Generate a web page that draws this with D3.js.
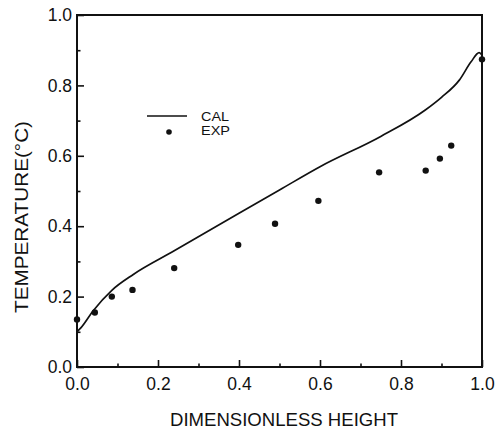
<!DOCTYPE html>
<html>
<head>
<meta charset="utf-8">
<script src="https://cdn.jsdelivr.net/npm/d3@7"></script>
<style>
  body { margin: 0; background: #fff; }
  svg text { font-family: "Liberation Sans", Arial, sans-serif; fill: #111; }
</style>
</head>
<body>
<svg id="chart" width="502" height="430"></svg>
<script>
// Calculated curve (CAL)
const calX = [0, 0.01, 0.04, 0.086, 0.139, 0.24, 0.4, 0.5, 0.6, 0.75, 0.86, 0.9, 0.944, 0.973, 0.993, 1.0];
const calY = [0.10, 0.112, 0.16, 0.218, 0.263, 0.33, 0.437, 0.503, 0.569, 0.655, 0.73, 0.766, 0.815, 0.867, 0.893, 0.886];

// Experimental points (EXP)
const expX = [0, 0.044, 0.086, 0.137, 0.24, 0.398, 0.489, 0.596, 0.746, 0.861, 0.896, 0.924, 1.0];
const expY = [0.135, 0.155, 0.20, 0.219, 0.281, 0.347, 0.407, 0.472, 0.553, 0.558, 0.592, 0.629, 0.874];

const majorTicks = [0, 0.2, 0.4, 0.6, 0.8, 1.0];
const minorTicks = [0.1, 0.3, 0.5, 0.7, 0.9];

const svg = d3.select('#chart');

const x = d3.scaleLinear().domain([0, 1]).range([77, 482]);
const y = d3.scaleLinear().domain([0, 1]).range([367, 15]);

// Frame
svg.append('rect')
    .attr('x', x(0)).attr('y', y(1))
    .attr('width', x(1) - x(0)).attr('height', y(0) - y(1))
    .attr('fill', 'none')
    .attr('stroke', '#111')
    .attr('stroke-width', 2);

// Bottom axis: inward ticks
const xAxis = svg.append('g').attr('transform', `translate(0,${y(0)})`);
xAxis.call(d3.axisBottom(x).tickValues(majorTicks).tickSize(-7).tickFormat(d3.format('.1f')).tickPadding(11));
xAxis.append('g').call(d3.axisBottom(x).tickValues(minorTicks).tickSize(-3.5).tickFormat(''));

// Left axis: inward ticks
const yAxis = svg.append('g').attr('transform', `translate(${x(0)},0)`);
yAxis.call(d3.axisLeft(y).tickValues(majorTicks).tickSize(-7).tickFormat(d3.format('.1f')).tickPadding(5));
yAxis.append('g').call(d3.axisLeft(y).tickValues(minorTicks).tickSize(-3.5).tickFormat(''));

svg.selectAll('.domain').remove();
svg.selectAll('.tick line').attr('stroke', '#111').attr('stroke-width', 1.6);
svg.selectAll('.tick text')
    .attr('font-size', 17.5)
    .attr('font-family', '"Liberation Sans", Arial, sans-serif')
    .attr('fill', '#111');

// CAL line
const calData = calX.map((v, i) => [v, calY[i]]);
svg.append('path')
    .datum(calData)
    .attr('fill', 'none')
    .attr('stroke', '#111')
    .attr('stroke-width', 1.7)
    .attr('d', d3.line()
        .x(d => x(d[0]))
        .y(d => y(d[1]))
        .curve(d3.curveMonotoneX));

// EXP dots
const expData = expX.map((v, i) => [v, expY[i]]);
svg.append('g')
    .selectAll('circle')
    .data(expData)
    .join('circle')
    .attr('cx', d => x(d[0]))
    .attr('cy', d => y(d[1]))
    .attr('r', 3.2)
    .attr('fill', '#111');

// Legend
const legend = svg.append('g');
legend.append('line')
    .attr('x1', 147).attr('x2', 187)
    .attr('y1', 116).attr('y2', 116)
    .attr('stroke', '#111').attr('stroke-width', 1.4);
legend.append('circle')
    .attr('cx', 169).attr('cy', 132).attr('r', 2.8).attr('fill', '#111');
legend.append('text')
    .attr('x', 201).attr('y', 120.5)
    .attr('font-size', 13)
    .attr('textLength', 28)
    .attr('lengthAdjust', 'spacingAndGlyphs')
    .text('CAL');
legend.append('text')
    .attr('x', 201).attr('y', 134.5)
    .attr('font-size', 13)
    .attr('textLength', 29)
    .attr('lengthAdjust', 'spacingAndGlyphs')
    .text('EXP');

// Axis titles
svg.append('text')
    .attr('x', 284).attr('y', 426)
    .attr('text-anchor', 'middle')
    .attr('font-size', 18)
    .attr('textLength', 228)
    .attr('lengthAdjust', 'spacingAndGlyphs')
    .text('DIMENSIONLESS HEIGHT');

svg.append('text')
    .attr('transform', 'translate(28,217) rotate(-90)')
    .attr('text-anchor', 'middle')
    .attr('font-size', 17.5)
    .attr('textLength', 192)
    .attr('lengthAdjust', 'spacingAndGlyphs')
    .text('TEMPERATURE(°C)');
</script>
</body>
</html>
